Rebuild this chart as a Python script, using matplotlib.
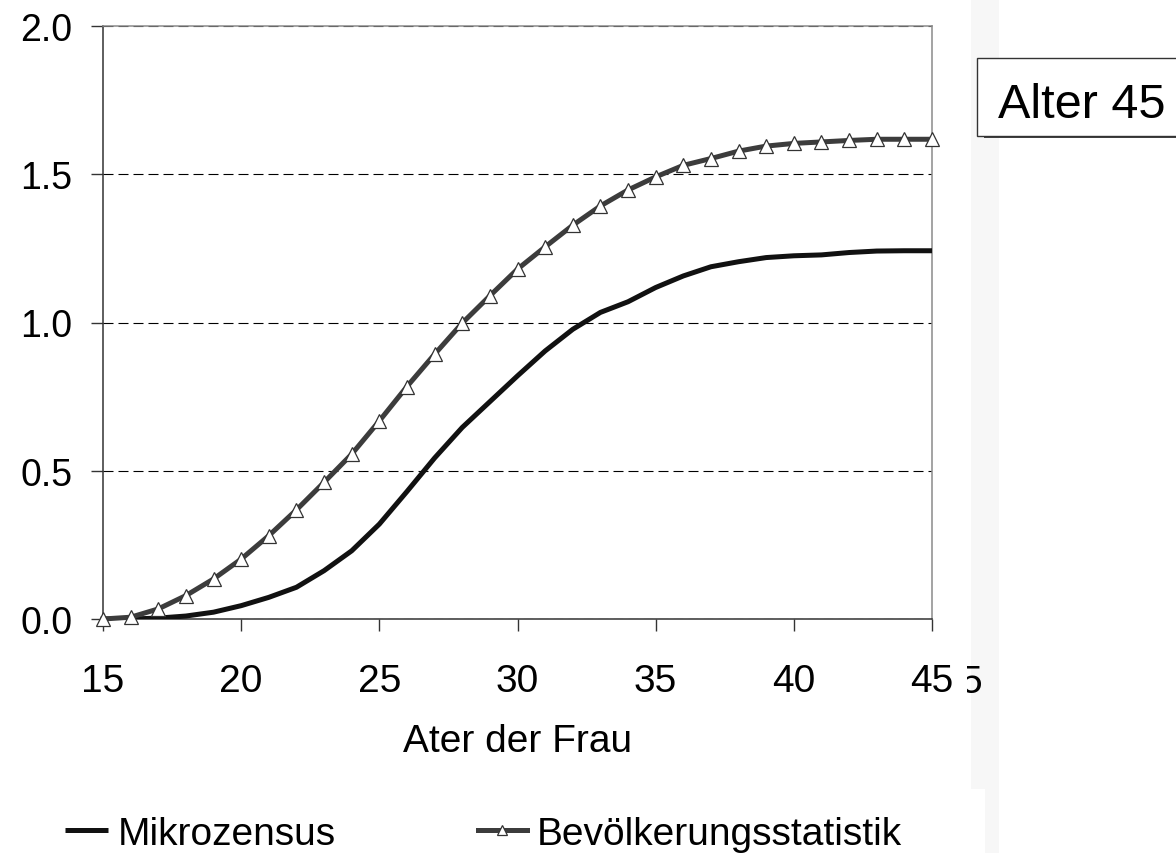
import numpy as np
import matplotlib
matplotlib.use("Agg")
import matplotlib.pyplot as plt
from matplotlib.patches import Rectangle

plt.rcParams['font.family'] = ['Liberation Sans', 'DejaVu Sans']

# Daten
alter = np.arange(15, 46)
mikrozensus = [0.0, 0.0, 0.003, 0.01, 0.023, 0.045, 0.073, 0.107, 0.163, 0.23,
               0.32, 0.43, 0.543, 0.646, 0.733, 0.82, 0.904, 0.977, 1.034, 1.07,
               1.118, 1.157, 1.188, 1.205, 1.219, 1.225, 1.228, 1.236, 1.241, 1.242,
               1.242]
bevstat = [0.0, 0.006, 0.034, 0.079, 0.135, 0.202, 0.281, 0.368, 0.461, 0.556,
           0.668, 0.784, 0.893, 0.998, 1.09, 1.18, 1.255, 1.328, 1.393, 1.447,
           1.491, 1.53, 1.553, 1.578, 1.595, 1.604, 1.609, 1.614, 1.618, 1.618,
           1.618]
xticks = [15, 20, 25, 30, 35, 40, 45]
yticks = [0.0, 0.5, 1.0, 1.5, 2.0]

W, H = 1176, 854
fig = plt.figure(figsize=(W / 100, H / 100), dpi=100)
ax = fig.add_axes([103 / W, 1 - 620 / H, (932 - 103) / W, (620 - 27) / H])

ax.plot(alter, mikrozensus, color='#111111', lw=3.6, solid_capstyle='butt',
        label='Mikrozensus', zorder=3)
ax.plot(alter, bevstat, color='#3c3c3c', lw=3.6, marker='^', markersize=9.5,
        markerfacecolor='white', markeredgecolor='#333333', markeredgewidth=0.9,
        label='Bevölkerungsstatistik', clip_on=False, zorder=4)

ax.set_xlim(15, 45)
ax.set_ylim(0, 2)
ax.set_xticks(xticks)
ax.set_yticks(yticks)
ax.set_yticklabels([f"{v:.1f}" for v in yticks])
ax.tick_params(axis='x', labelsize=28, length=8.5, width=1, pad=23.5, color='#333333')
ax.tick_params(axis='y', labelsize=27, length=9, width=1, pad=13, color='#333333')

ax.yaxis.grid(True, color='black', lw=0.8, linestyle=(0, (9, 4.5)))
ax.set_axisbelow(True)

for s in ['left', 'bottom']:
    ax.spines[s].set_color('#333333')
    ax.spines[s].set_linewidth(1.1)
for s in ['top', 'right']:
    ax.spines[s].set_color('#8a8a8a')
    ax.spines[s].set_linewidth(1.1)

ax.set_xlabel('Ater der Frau', fontsize=28, labelpad=17)

# grauer Streifen rechts + weisser Legendenbereich
fig.add_artist(Rectangle((971 / W, 0), 28 / W, 1, transform=fig.transFigure,
                         facecolor='#f7f7f7', edgecolor='none', zorder=0.5))
fig.add_artist(Rectangle((0, 0), 985 / W, 1 - 790 / H, transform=fig.transFigure,
                         facecolor='white', edgecolor='none', zorder=1))

# abgeschnittene "5" neben dem letzten Tick
fig.text(982 / W, 1 - 693 / H, '5', fontsize=28, ha='right', va='baseline', zorder=3)
fig.add_artist(Rectangle((955 / W, 1 - 705 / H), 12 / W, 50 / H, transform=fig.transFigure,
                         facecolor='white', edgecolor='none', zorder=4))

# Kasten "Alter 45"
fig.add_artist(Rectangle((984 / W, 1 - 139 / H), 300 / W, 78 / H, transform=fig.transFigure,
                         facecolor='#444444', edgecolor='none', zorder=5))
fig.add_artist(Rectangle((977 / W, 1 - 137 / H), 300 / W, 78 / H, transform=fig.transFigure,
                         facecolor='white', edgecolor='#333333', lw=1, zorder=6))
fig.text(998 / W, 1 - 118 / H, 'Alter 45', fontsize=35, ha='left', va='baseline', zorder=7)

# Legende
h1, h2 = ax.get_legend_handles_labels()[0]
for handle, lab, xpos, hl in [(h1, 'Mikrozensus', 65, 1.1),
                              (h2, 'Bevölkerungsstatistik', 478, 1.25)]:
    fig.legend([handle], [lab], loc='center left', bbox_to_anchor=(xpos / W, 1 - 835 / H),
               frameon=False, fontsize=28, handlelength=hl, handletextpad=0.25,
               borderpad=0, borderaxespad=0, markerscale=0.7)

fig.savefig('out.png', dpi=100)
